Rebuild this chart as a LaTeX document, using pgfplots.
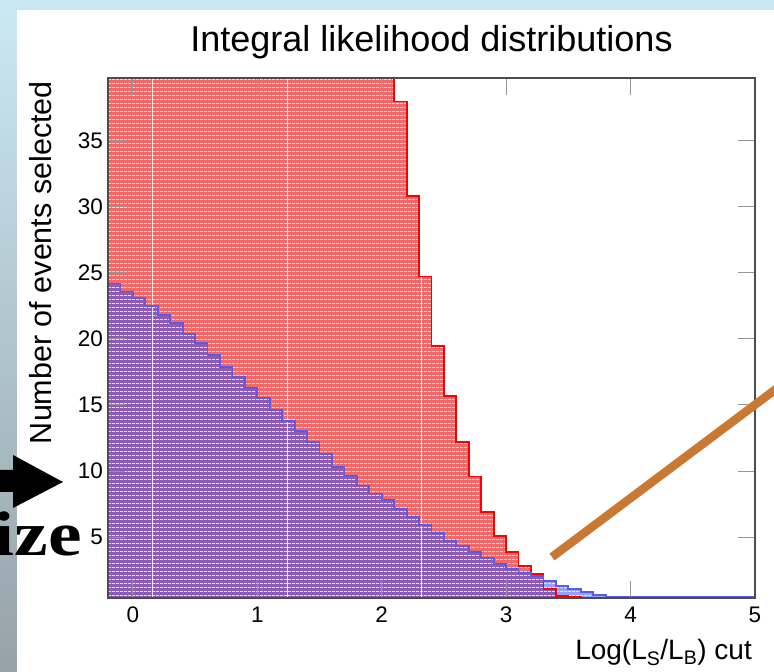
\documentclass[border=0pt]{standalone}
\usepackage{pgfplots}
\pgfplotsset{compat=1.18}
\usepackage{fontspec}
\setmainfont{Liberation Sans}
\newfontfamily\izefont{Liberation Serif}
\usetikzlibrary{patterns.meta}

\definecolor{redfill}{RGB}{242,104,104}
\definecolor{bluefill}{RGB}{45,80,255}
\definecolor{redline}{RGB}{255,0,0}
\definecolor{blueline}{RGB}{95,90,230}
\definecolor{orangeline}{RGB}{200,121,50}
\definecolor{bgblue}{RGB}{202,232,243}
\definecolor{stripgray}{RGB}{150,162,168}
\definecolor{tickgray}{RGB}{150,150,150}

\tikzdeclarepattern{
  name=rootlines,
  type=uncolored,
  bounding box={(0pt,0pt) and (4pt,4pt)},
  tile size={(4pt,4pt)},
  code={\fill (0pt,0pt) rectangle (4pt,1pt);}
}

\begin{document}
\begin{tikzpicture}[x=1pt,y=1pt]
\fill[bgblue] (0,0) rectangle (774,672);
\shade[top color=bgblue, bottom color=stripgray] (0,0) rectangle (17,662);
\fill[white] (17,0) rectangle (774,662);
\begin{axis}[
  at={(108pt,74pt)}, anchor=south west,
  scale only axis, width=647pt, height=520pt,
  xmin=-0.2, xmax=5, ymin=0.38, ymax=39.77,
  axis on top,
  xtick={0,1,2,3,4,5}, ytick={5,10,15,20,25,30,35},
  minor tick num=0,
  tick align=inside,
  major tick length=17pt,
  xtick pos=both, ytick pos=both,
  xticklabel pos=lower, yticklabel pos=left,
  major tick style={draw=tickgray, line width=1pt},
  axis line style={draw=black!70, line width=1.6pt},
  /pgf/number format/assume math mode=true,
  tick label style={font=\fontsize{22.5}{22.5}\selectfont},
  xticklabel style={inner sep=0pt, yshift=-9pt},
  yticklabel style={inner sep=0pt, xshift=-5pt},
  title={Integral likelihood distributions},
  title style={at={(rel axis cs:0.5,1.0398)}, anchor=base, inner sep=0pt, font=\fontsize{36}{36}\selectfont},
  xlabel={Log(L\textsubscript{S}/L\textsubscript{B}) cut},
  xlabel style={at={(rel axis cs:0.9954,-0.1192)}, anchor=base east, inner sep=0pt, font=\fontsize{28}{28}\selectfont},
  ylabel={Number of events selected},
  ylabel style={at={(rel axis cs:-0.0866,0.9942)}, rotate=0, anchor=south east, inner sep=0pt, font=\fontsize{30.5}{30.5}\selectfont},
]
% red integral distribution, fill
\addplot[const plot, draw=none, fill=redfill, postaction={pattern=rootlines, pattern color=white, fill opacity=0.7}] coordinates {
(-0.2,95) (-0.1,92) (0.0,89) (0.1,86) (0.2,83) (0.3,80) (0.4,77) (0.5,74) (0.6,71) (0.7,68)
(0.8,65) (0.9,62) (1.0,60) (1.1,58) (1.2,56) (1.3,54) (1.4,52) (1.5,50) (1.6,48) (1.7,46)
(1.8,44) (1.9,42.5) (2.0,41) (2.1,37.99) (2.2,30.82) (2.3,24.74) (2.4,19.46) (2.5,15.67)
(2.6,12.18) (2.7,9.59) (2.8,6.89) (2.9,5.10) (3.0,3.84) (3.1,2.83) (3.2,2.20) (3.3,1.06)
(3.4,0.55) (3.5,0.45) (3.6,0.42) (3.7,0.42) (3.8,0.40) (3.9,0) (4.0,0) (5.0,0)
} \closedcycle;
% blue integral distribution, fill
\addplot[const plot, draw=none, fill=bluefill, fill opacity=0.52, postaction={pattern=rootlines, pattern color=white, fill opacity=0.7}] coordinates {
(-0.2,24.2) (-0.1,23.6) (0.0,23.1) (0.1,22.5) (0.2,21.8) (0.3,21.2) (0.4,20.4) (0.5,19.7)
(0.6,18.8) (0.7,17.9) (0.8,17.1) (0.9,16.3) (1.0,15.5) (1.1,14.6) (1.2,13.8) (1.3,13.0)
(1.4,12.2) (1.5,11.3) (1.6,10.3) (1.7,9.6) (1.8,8.9) (1.9,8.3) (2.0,7.8) (2.1,7.1)
(2.2,6.5) (2.3,5.9) (2.4,5.3) (2.5,4.7) (2.6,4.3) (2.7,3.84) (2.8,3.38) (2.9,2.93)
(3.0,2.57) (3.1,2.30) (3.2,2.05) (3.3,1.69) (3.4,1.31) (3.5,1.06) (3.6,0.85) (3.7,0.60)
(3.8,0.48) (3.9,0.5) (4.0,0.5) (5.0,0.5)
} \closedcycle;
% pattern tile seams
\addplot[white, line width=0.8pt, opacity=0.8] coordinates {(0.154,0.38) (0.154,39.77)};
\addplot[white, line width=0.8pt, opacity=0.8] coordinates {(1.239,0.38) (1.239,39.77)};
\addplot[white, line width=0.8pt, opacity=0.8] coordinates {(2.316,0.38) (2.316,24.74)};
% outlines
\addplot[const plot, draw=redline, line width=1.8pt] coordinates {
(-0.2,95) (2.0,41) (2.1,37.99) (2.2,30.82) (2.3,24.74) (2.4,19.46) (2.5,15.67)
(2.6,12.18) (2.7,9.59) (2.8,6.89) (2.9,5.10) (3.0,3.84) (3.1,2.83) (3.2,2.20) (3.3,1.06)
(3.4,0.55) (3.5,0.45) (3.6,0.42) (3.7,0.42) (3.8,0.40) (3.9,0) (5.0,0)
};
\addplot[const plot, draw=blueline, line width=1.8pt] coordinates {
(-0.2,24.2) (-0.1,23.6) (0.0,23.1) (0.1,22.5) (0.2,21.8) (0.3,21.2) (0.4,20.4) (0.5,19.7)
(0.6,18.8) (0.7,17.9) (0.8,17.1) (0.9,16.3) (1.0,15.5) (1.1,14.6) (1.2,13.8) (1.3,13.0)
(1.4,12.2) (1.5,11.3) (1.6,10.3) (1.7,9.6) (1.8,8.9) (1.9,8.3) (2.0,7.8) (2.1,7.1)
(2.2,6.5) (2.3,5.9) (2.4,5.3) (2.5,4.7) (2.6,4.3) (2.7,3.84) (2.8,3.38) (2.9,2.93)
(3.0,2.57) (3.1,2.30) (3.2,2.05) (3.3,1.69) (3.4,1.31) (3.5,1.06) (3.6,0.85) (3.7,0.60)
(3.8,0.48) (3.9,0.5) (5.0,0.5)
};
\end{axis}
% slide decorations
\fill[black] (0,202) -- (13,202) -- (13,217) -- (63,190) -- (13,164) -- (13,180) -- (0,180) -- cycle;
\node[anchor=base east, inner sep=0pt, xscale=1.2, font=\izefont\bfseries\fontsize{63}{63}\selectfont] at (82,116) {ize};
\draw[orangeline, line width=8.5pt] (552,115) -- (795,297.25);
\pgfresetboundingbox
\path[use as bounding box] (0,0) rectangle (774,672);
\end{tikzpicture}
\end{document}
